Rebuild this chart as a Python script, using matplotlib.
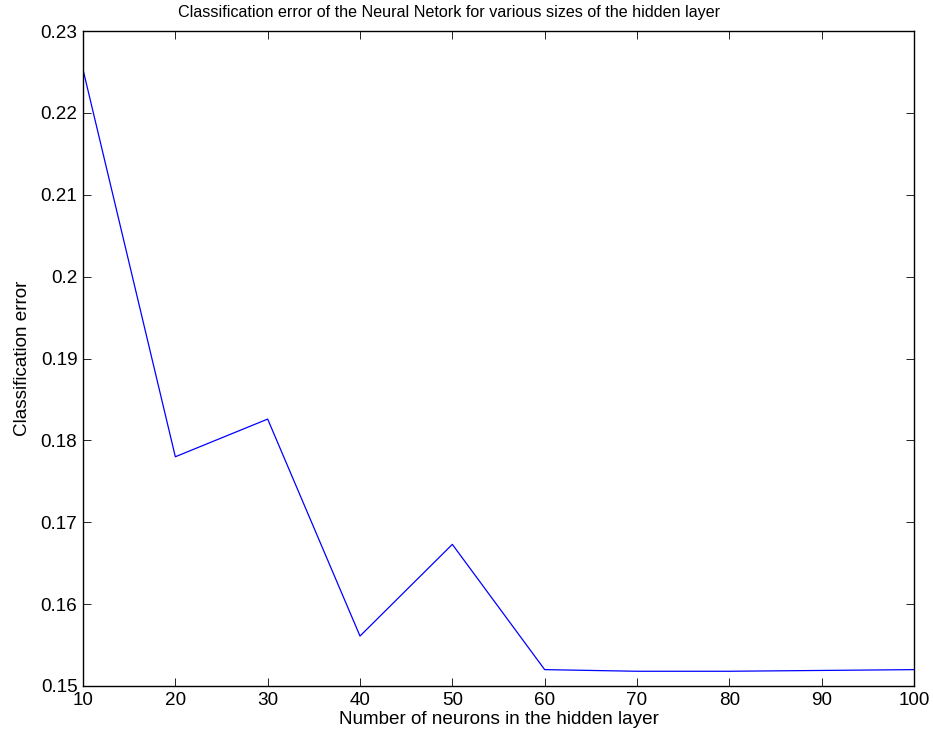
import numpy as np
import matplotlib
matplotlib.use("Agg")
import matplotlib.pyplot as plt

plt.rcParams['font.family'] = ['Liberation Sans', 'DejaVu Sans']

# hidden layer sizes and the error measured for each
hidden_sizes = [10, 20, 30, 40, 50, 60, 70, 80, 90, 100]
class_error = [0.2253, 0.1780, 0.1826, 0.1561, 0.1673,
               0.1520, 0.1518, 0.1518, 0.1519, 0.1520]
y_ticks = [0.15, 0.16, 0.17, 0.18, 0.19, 0.2, 0.21, 0.22, 0.23]
y_labels = ['0.15', '0.16', '0.17', '0.18', '0.19', '0.2', '0.21', '0.22', '0.23']

fig = plt.figure(figsize=(9.33, 7.38), dpi=100)
ax = fig.add_axes([83 / 933, 1 - 686 / 738, 831 / 933, 655 / 738])

ax.plot(hidden_sizes, class_error, color='blue', linewidth=0.9)

ax.set_xlim(10, 100)
ax.set_ylim(0.15, 0.23)
ax.set_xticks(np.arange(10, 101, 10))
ax.set_yticks(y_ticks)
ax.set_yticklabels(y_labels)
ax.tick_params(direction='in', top=True, right=True, length=6,
               width=0.6, labelsize=13.6)
ax.tick_params(axis='x', pad=4.5)
ax.tick_params(axis='y', pad=4)
for sp in ax.spines.values():
    sp.set_linewidth(1.0)

ax.set_xlabel('Number of neurons in the hidden layer', fontsize=13.6, labelpad=1)
ax.set_ylabel('Classification error', fontsize=13.6, labelpad=7)
fig.text(449 / 933, 1 - 13 / 738,
         'Classification error of the Neural Netork for various sizes of the hidden layer',
         fontsize=11.6, ha='center', va='center')

fig.savefig('out.png', dpi=100)
